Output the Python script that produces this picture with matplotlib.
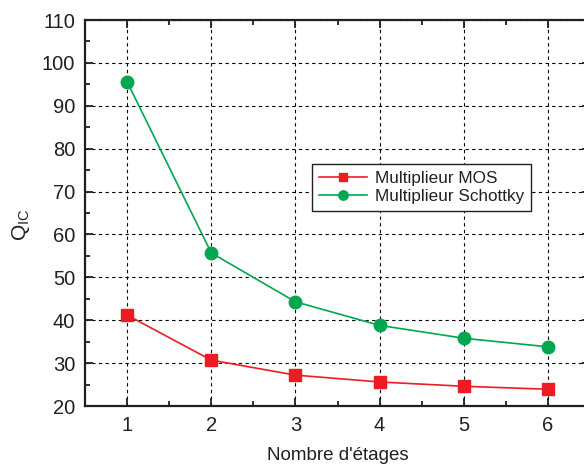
import matplotlib
matplotlib.use("Agg")
import matplotlib.pyplot as plt
from matplotlib.ticker import MultipleLocator

plt.rcParams['font.family'] = ['Liberation Sans', 'DejaVu Sans']
plt.rcParams['mathtext.default'] = 'regular'

# data
stages = [1, 2, 3, 4, 5, 6]
q_mos = [41.2, 30.7, 27.2, 25.6, 24.6, 23.9]
q_schottky = [95.6, 55.7, 44.3, 38.8, 35.8, 33.8]

fig = plt.figure(figsize=(5.84, 4.68), dpi=100)
ax = fig.add_axes([85/584, 62/468, 505/584, 386/468])

ax.plot(stages, q_mos, color="#ED1C24", lw=1.2, marker="s", ms=8,
        label="Multiplieur MOS")
ax.plot(stages, q_schottky, color="#00A650", lw=1.2, marker="o", ms=9,
        label="Multiplieur Schottky")

ax.set_xlim(0.5, 6.5)
ax.set_ylim(20, 110)
ax.xaxis.set_major_locator(MultipleLocator(1))
ax.xaxis.set_minor_locator(MultipleLocator(0.5))
ax.yaxis.set_major_locator(MultipleLocator(10))
ax.yaxis.set_minor_locator(MultipleLocator(5))

ax.grid(True, which="major", color="black", ls=(0, (3, 3)), lw=0.8)
ax.set_axisbelow(True)

for s in ax.spines.values():
    s.set_linewidth(1.6)
    s.set_color("#231F20")
ax.tick_params(which="both", direction="in", top=True, right=True,
               width=1.3, color="#231F20")
ax.tick_params(which="major", length=6, labelsize=14.5, pad=7,
               labelcolor="#231F20")
ax.tick_params(which="minor", length=3.5)

ax.set_xlabel("Nombre d'étages", fontsize=13.5, labelpad=9, color="#231F20")
ax.set_ylabel("Q$_{IC}$", fontsize=15, color="#231F20")
ax.yaxis.set_label_coords(-0.105, 0.47)

leg = ax.legend(loc="upper left", bbox_to_anchor=(312/584, 1 - 164/468),
                bbox_transform=fig.transFigure, fontsize=12.3, fancybox=False,
                framealpha=1, edgecolor="#231F20", handlelength=2.8,
                markerscale=0.75, borderpad=0.4, labelspacing=0.2,
                borderaxespad=0, handletextpad=0.5)
leg.get_frame().set_linewidth(1.0)
for t in leg.get_texts():
    t.set_color("#231F20")

fig.savefig("out.png", dpi=100)
